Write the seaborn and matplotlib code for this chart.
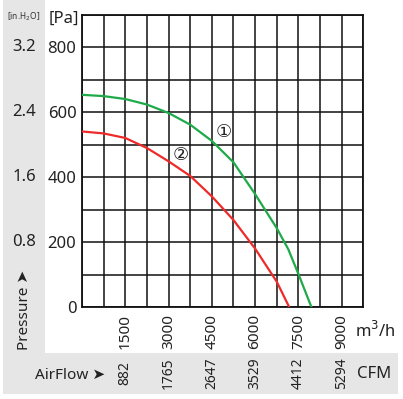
import matplotlib
matplotlib.use('Agg')
import matplotlib.pyplot as plt
import matplotlib.transforms as mtransforms
from matplotlib.patches import Rectangle
import pandas as pd
import seaborn as sns

# Curve data (flow m3/h, pressure Pa)
flow_1 = [0, 750, 1500, 2250, 3000, 3750, 4500, 5250, 6000, 6750, 7150, 7500, 7950]
press_1 = [654, 650, 641, 624, 598, 562, 512, 446, 348, 243, 178, 102, 0]
flow_2 = [0, 750, 1500, 2250, 3000, 3750, 4500, 5250, 6000, 6750, 7180]
press_2 = [541, 535, 521, 490, 449, 404, 341, 268, 180, 78, 0]

pa_ticks = [0, 200, 400, 600, 800]
inh2o_labels = ["0.8", "1.6", "2.4", "3.2"]
m3h_ticks = [1500, 3000, 4500, 6000, 7500, 9000]
cfm_labels = ["882", "1765", "2647", "3529", "4412", "5294"]

W, H = 403, 399
FONT = ['Noto Sans', 'DejaVu Sans', 'Noto Sans CJK SC']

sns.set_theme(style="white")
plt.rcParams['font.family'] = FONT

fig = plt.figure(figsize=(W / 100, H / 100), dpi=100)

# gray side panels (pixel coords -> figure coords)
def fig_rect(x0, y0, x1, y1, **kw):
    fig.add_artist(Rectangle((x0 / W, 1 - y1 / H), (x1 - x0) / W, (y1 - y0) / H,
                             transform=fig.transFigure, zorder=0, lw=0, **kw))

fig_rect(3, 0, 45, 394, color="#e6e6e6")
fig_rect(3, 353, 398, 394, color="#e6e6e6")

left, right, top, bottom = 82, 363.3, 15, 307
ax = fig.add_axes([left / W, 1 - bottom / H, (right - left) / W, (bottom - top) / H])
ax.set_facecolor("none")

df = pd.concat([
    pd.DataFrame({"flow": flow_1, "pressure": press_1, "curve": "1"}),
    pd.DataFrame({"flow": flow_2, "pressure": press_2, "curve": "2"}),
])
sns.lineplot(data=df, x="flow", y="pressure", hue="curve", sort=False, estimator=None,
             palette={"1": "#1faa4a", "2": "#ee2a2a"}, lw=1.6, legend=False, ax=ax, zorder=3)

ax.set_xlim(0, 9750)
ax.set_ylim(0, 900)
ax.set_xticks(m3h_ticks)
ax.set_xticks(range(0, 9751, 750), minor=True)
ax.set_yticks(pa_ticks)
ax.set_yticks(range(0, 901, 100), minor=True)
ax.grid(True, which="both", color="#111111", lw=1.1)
ax.tick_params(which="both", length=0)
ax.tick_params(axis="x", labelrotation=90, labelsize=11, pad=5, colors="#222222")
ax.tick_params(axis="y", labelsize=12, pad=4, colors="#222222")
for s in ax.spines.values():
    s.set_color("#111111")
    s.set_linewidth(1.3)
ax.set_xlabel("")
ax.set_ylabel("")

# curve numbers
ax.text(4919, 540, "①", fontsize=13, ha="center", va="center", color="#222222",
        family=['DejaVu Sans', 'Noto Sans CJK SC'])
ax.text(3430, 469, "②", fontsize=13, ha="center", va="center", color="#222222",
        family=['DejaVu Sans', 'Noto Sans CJK SC'])

# secondary pressure scale
ytrans = mtransforms.blended_transform_factory(fig.transFigure, ax.transData)
for v, lab in zip(pa_ticks[1:], inh2o_labels):
    ax.text(24 / W, v, lab, transform=ytrans, ha="center", va="center",
            fontsize=12, color="#222222")

# secondary flow scale (CFM)
xtrans = mtransforms.blended_transform_factory(ax.transData, fig.transFigure)
for v, lab in zip(m3h_ticks, cfm_labels):
    ax.text(v, 1 - 373 / H, lab, transform=xtrans, rotation=90, ha="center",
            va="center", fontsize=10, color="#222222")

fig.text(24 / W, 1 - 17 / H, "[in.H$_2$O]", ha="center", va="center",
         fontsize=6, color="#333333")
fig.text(64 / W, 1 - 19 / H, "[Pa]", ha="center", va="center",
         fontsize=12, color="#222222")
fig.text(375 / W, 1 - 331 / H, "m$^3$/h", ha="center", va="center",
         fontsize=12, color="#222222")
fig.text(374 / W, 1 - 374 / H, "CFM", ha="center", va="center",
         fontsize=12, color="#222222")
fig.text(70 / W, 1 - 375 / H, "AirFlow ➤", ha="center", va="center",
         fontsize=11, color="#222222")
fig.text(24 / W, 1 - 310 / H, "Pressure ➤", ha="center", va="center",
         rotation=90, fontsize=11, color="#222222")

fig.savefig("out.png", dpi=100)
